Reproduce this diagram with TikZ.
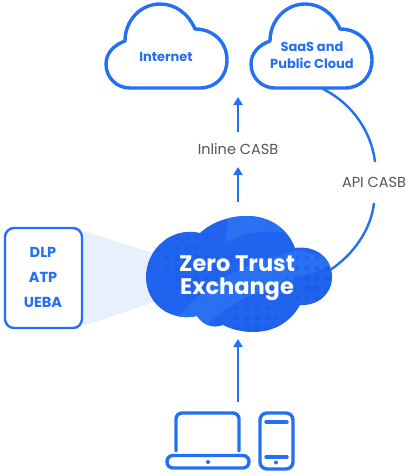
\documentclass[tikz,border=0pt]{standalone}
\usepackage{fontspec}
\setmainfont{Poppins}
\definecolor{ztBlue}{HTML}{2470F2}
\definecolor{ztDark}{HTML}{1F63EE}
\definecolor{ztLight}{HTML}{2A70F2}
\definecolor{ztDots}{HTML}{1A56DC}
\definecolor{ztPale}{HTML}{E8F0FC}
\definecolor{ztGrey}{HTML}{555555}
\usetikzlibrary{arrows.meta}
\tikzset{
  flow/.style={ztBlue, line width=2.4pt, -{Triangle[width=9pt,length=8pt]}},
  link/.style={ztBlue, line width=2.4pt},
  outline/.style={ztBlue, line width=3.4pt, line cap=round, line join=round},
  cloudlabel/.style={ztBlue, font=\fontsize{13}{17.5}\selectfont\bfseries, align=center},
  toollabel/.style={ztBlue, font=\fontsize{14.5}{16}\selectfont\bfseries},
  casblabel/.style={ztGrey, font=\fontsize{14.5}{16}\selectfont},
}
% Outline cloud, x shifted by #1
\newcommand{\linecloud}[1]{
  \begin{scope}[xshift=#1pt, yshift=0pt]
    \draw[outline] (130,88) -- (200,88)
      .. controls (216,88) and (227,76) .. (227,60)
      .. controls (227,42) and (213,29) .. (195,29)
      .. controls (188,13) and (175,4) .. (160,4)
      .. controls (141,4) and (125,20) .. (125,41)
      .. controls (114,45) and (106,53) .. (106,64)
      .. controls (106,78) and (117,88) .. (130,88) -- cycle;
  \end{scope}
}
\newcommand{\ztpath}{(200,233)
  .. controls (212,222) and (229,216) .. (247,216)
  .. controls (270,216) and (288,229) .. (295,248)
  .. controls (317,245) and (332,259) .. (332,277)
  .. controls (332,294) and (318,306) .. (300,305)
  .. controls (290,323) and (273,332) .. (253,332)
  .. controls (241,332) and (231,329) .. (223,325)
  .. controls (213,329) and (203,325) .. (197,316)
  .. controls (169,322) and (146,303) .. (146,277)
  .. controls (146,249) and (172,226) .. (200,233) -- cycle}

\begin{document}
\begin{tikzpicture}[x=1pt, y=-1pt]
  \useasboundingbox (0,0) rectangle (414,475);
  % Top clouds
  \linecloud{0}
  \linecloud{145}
  \node[cloudlabel] (internet) at (166,57) {Internet};
  \node[cloudlabel] (saas) at (312,55) {SaaS and\\Public Cloud};
  % Side panel
  \fill[ztPale] (83,231) -- (160,255) -- (160,300) -- (83,326) -- cycle;
  \node[draw=ztBlue, line width=2.4pt, fill=white, rounded corners=9pt,
    minimum width=77pt, minimum height=100pt] (tools) at (43.5,278) {};
  \node[toollabel] (dlp) at (43,252) {DLP};
  \node[toollabel] (atp) at (43,277) {ATP};
  \node[toollabel] (ueba) at (43,302) {UEBA};
  % Main cloud
  \fill[ztDark] \ztpath;
  \begin{scope}
    \clip \ztpath;
    \fill[ztLight] (225,243) .. controls (245,232) and (270,228) .. (300,235)
      -- (300,200) -- (230,200) -- cycle;
    \fill[ztLight] (340,262) .. controls (290,285) and (225,290) .. (192,345)
      -- (160,345) .. controls (190,285) and (250,260) .. (300,250) -- cycle;
    \foreach \i in {0,...,18} {
      \foreach \j in {0,...,12} {
        \pgfmathsetmacro{\dotx}{147+10*\i}
        \pgfmathsetmacro{\doty}{218+10*\j}
        \pgfmathsetmacro{\dotr}{max(0.4, 3.8-0.07*min(veclen(\dotx-188,\doty-262),
          veclen(\dotx-312,\doty-282), veclen(\dotx-255,\doty-328)))}
        \fill[ztDots, opacity=0.45] (\dotx,\doty) circle (\dotr pt);
      }
    }
  \end{scope}
  \node[white, font=\fontsize{22.5}{23.5}\selectfont\bfseries, align=center] (zte) at (237,278) {Zero Trust\\Exchange};
  % Flow labels
  \node[casblabel] (inline) at (238,149) {Inline CASB};
  \node[casblabel] (api) at (374,182) {API CASB};
  \coordinate (inlinetip) at (238,97);
  \coordinate (inlinefoot) at (238,202);
  \coordinate (inlinemid) at (238,167);
  \coordinate (inlinetop) at (238,132);
  \coordinate (userfoot) at (238,402);
  \coordinate (usertip) at (238,339);
  \coordinate (saasfoot) at (323,89);
  \coordinate (apitop) at (375,162);
  \coordinate (apifoot) at (374,203);
  \coordinate (ztright) at (330,270);
  \draw[flow] (inlinetop) -- (inlinetip);
  \draw[flow] (inlinefoot) -- (inlinemid);
  \draw[flow] (userfoot) -- (usertip);
  \draw[link] (saasfoot) .. controls (355,105) and (372,135) .. (apitop);
  \draw[link] (apifoot) .. controls (371,230) and (353,255) .. (ztright);
  % Laptop and phone
  \draw[outline] (176,451) -- (176,419) arc[start angle=180, end angle=90, radius=6pt]
    -- (233,413) arc[start angle=90, end angle=0, radius=6pt] -- (239,451);
  \draw[outline, rounded corners=6pt] (167,455.5) rectangle (249,468);
  \fill[ztBlue] (208,462) circle (2pt);
  \draw[outline, rounded corners=7pt] (260,413) rectangle (293,469);
  \draw[outline] (266,422) -- (287,422);
  \draw[outline] (266,457) -- (287,457);
  \fill[ztBlue] (276,462.5) circle (2pt);
\end{tikzpicture}
\end{document}
